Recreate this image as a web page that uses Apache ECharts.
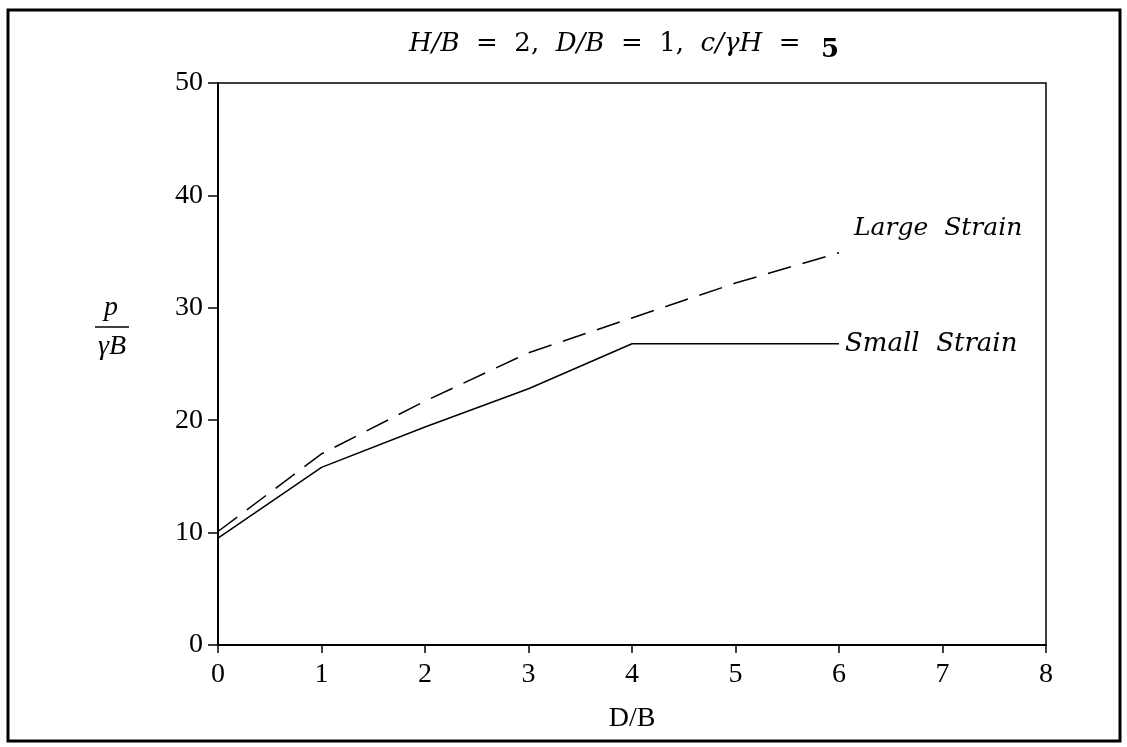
<!DOCTYPE html>
<html>
<head>
<meta charset="utf-8">
<script src="https://cdn.jsdelivr.net/npm/echarts@6/dist/echarts.min.js"></script>
<style>
  html, body { margin: 0; padding: 0; background: #fff; }
  #main { width: 1127px; height: 747px; }
</style>
</head>
<body>
<div id="main"></div>
<script>
// D/B values and p/(gamma B)
const xValues = [0, 1, 2, 3, 4, 5, 6];
const largeStrain = [10.1, 17.0, 21.7, 26.0, 29.1, 32.2, 34.9];
const smallStrainX = [0, 1, 2, 3, 4, 6];
const smallStrain = [9.5, 15.8, 19.4, 22.8, 26.8, 26.8];
const xTicks = [0, 1, 2, 3, 4, 5, 6, 7, 8];
const yTicks = [0, 10, 20, 30, 40, 50];

const serif = '"Liberation Serif", "DejaVu Serif", serif';
const wide = '"DejaVu Serif", "Liberation Serif", serif';

const chart = echarts.init(document.getElementById('main'));

const option = {
  backgroundColor: '#ffffff',
  animation: false,
  title: {
    text: '{i|H/B}{n|  =  2,  }{i|D/B}{n|  =  1,  }{i|c/γH}{n|  =  }{b|5}',
    left: 619,
    textAlign: 'center',
    top: 20,
    textStyle: {
      fontWeight: 'normal',
      rich: {
        i: { fontFamily: wide, fontStyle: 'italic', fontWeight: 'normal', fontSize: 26, color: '#000' },
        n: { fontFamily: wide, fontWeight: 'normal', fontSize: 26, color: '#000' },
        b: { fontFamily: wide, fontWeight: 'bold', fontSize: 26, color: '#000', padding: [12, 0, 0, 4] }
      }
    }
  },
  grid: {
    left: 218,
    right: 81,
    top: 83,
    bottom: 102,
    show: true,
    borderColor: '#000',
    borderWidth: 1.5,
    backgroundColor: 'transparent'
  },
  xAxis: {
    type: 'value',
    min: xTicks[0],
    max: xTicks[xTicks.length - 1],
    interval: 1,
    name: 'D/B',
    nameLocation: 'middle',
    nameGap: 60,
    nameTextStyle: { fontFamily: serif, fontSize: 28, color: '#000' },
    axisLine: { lineStyle: { color: '#000', width: 2 } },
    axisTick: { inside: false, length: 8, lineStyle: { color: '#000', width: 1.5 } },
    axisLabel: { fontFamily: serif, fontSize: 28, color: '#000', margin: 16 },
    splitLine: { show: false }
  },
  yAxis: {
    type: 'value',
    min: yTicks[0],
    max: yTicks[yTicks.length - 1],
    interval: 10,
    axisLine: { show: true, lineStyle: { color: '#000', width: 2 } },
    axisTick: { show: true, inside: false, length: 10, lineStyle: { color: '#000', width: 1.5 } },
    axisLabel: { fontFamily: serif, fontSize: 28, color: '#000', margin: 15 },
    splitLine: { show: false }
  },
  series: [
    {
      name: 'Large Strain',
      type: 'line',
      data: xValues.map((x, i) => [x, largeStrain[i]]),
      showSymbol: false,
      lineStyle: { color: '#000', width: 1.5, type: [24, 12] },
      endLabel: {
        show: true,
        formatter: 'Large  Strain',
        fontFamily: wide,
        fontStyle: 'italic',
        fontSize: 25,
        color: '#000',
        offset: [7, -24]
      }
    },
    {
      name: 'Small Strain',
      type: 'line',
      data: smallStrainX.map((x, i) => [x, smallStrain[i]]),
      showSymbol: false,
      lineStyle: { color: '#000', width: 1.5 },
      endLabel: {
        show: true,
        formatter: 'Small  Strain',
        fontFamily: wide,
        fontStyle: 'italic',
        fontSize: 26,
        color: '#000',
        distance: 6
      }
    }
  ],
  graphic: [
    {
      type: 'rect',
      shape: { x: 8, y: 10, width: 1112, height: 731 },
      style: { fill: 'none', stroke: '#000', lineWidth: 3 },
      silent: true
    },
    {
      type: 'text',
      x: 111,
      y: 322,
      style: { text: 'p', fontFamily: serif, fontStyle: 'italic', fontSize: 28, fill: '#000', align: 'center', verticalAlign: 'bottom' }
    },
    {
      type: 'line',
      shape: { x1: 95, y1: 327, x2: 129, y2: 327 },
      style: { stroke: '#000', lineWidth: 1.5 }
    },
    {
      type: 'text',
      x: 112,
      y: 333,
      style: { text: 'γB', fontFamily: serif, fontStyle: 'italic', fontSize: 28, fill: '#000', align: 'center', verticalAlign: 'top' }
    }
  ]
};

chart.setOption(option);
</script>
</body>
</html>
